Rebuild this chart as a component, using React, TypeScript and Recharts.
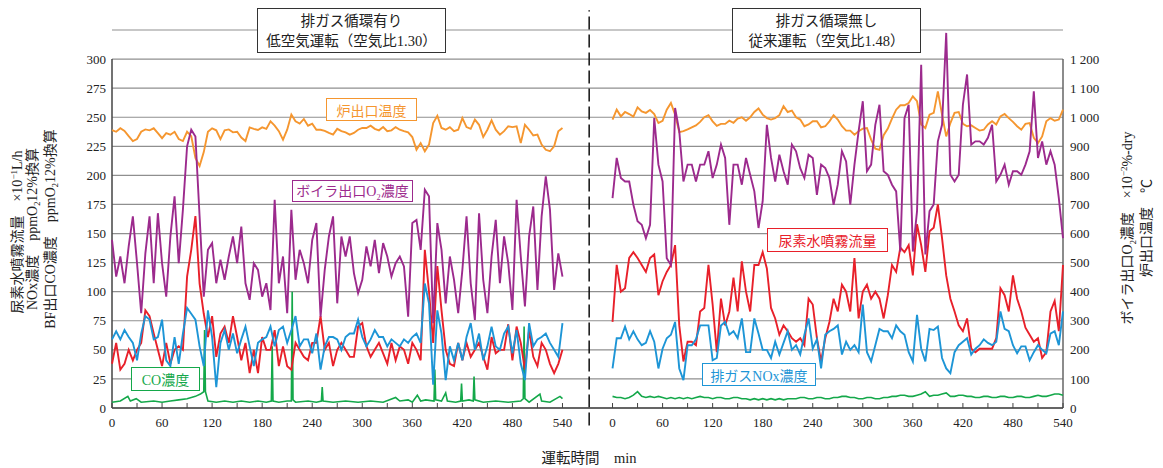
import React from "react";
import {
  LineChart,
  Line,
  XAxis,
  YAxis,
  CartesianGrid,
  ReferenceLine,
} from "recharts";

const FONT = '"Liberation Serif", "Noto Sans CJK JP", serif';
const TEXT = "#222";

const COLORS = {
  temp: "#F5962F",
  o2: "#9C2A8D",
  urea: "#E8202A",
  nox: "#1D95D6",
  co: "#14A84A",
};

// 5分ごとの読み取り時刻 (0–540 min)
const STEP_TIMES = Array.from({ length: 109 }, (_, i) => i * 5);
const RIGHT_OFFSET = 600;
const X_END = 1140;
const DIVIDER_T = 572;

const MINUTE_TICKS = [0, 30, 60, 90, 120, 150, 180, 210, 240, 270, 300, 330, 360, 390, 420, 450, 480, 510, 540];
const LEFT_TICKS = [0, 25, 50, 75, 100, 125, 150, 175, 200, 225, 250, 275, 300];
const RIGHT_TICKS = [0, 100, 200, 300, 400, 500, 600, 700, 800, 900, 1000, 1100, 1200];

// 排ガス循環有り
const LEFT_TEMP = [
  956, 950, 962, 953, 935, 918, 925, 950, 958, 955, 962, 945,
  928, 945, 940, 950, 925, 918, 950, 935, 860, 832, 880, 950,
  962, 955, 925, 955, 958, 948, 950, 930, 918, 965, 960, 956,
  965, 960, 986, 971, 952, 923, 957, 1009, 986, 978, 994, 971,
  978, 957, 957, 953, 946, 940, 960, 952, 948, 940, 946, 957,
  963, 963, 971, 960, 955, 966, 952, 955, 966, 957, 952, 948,
  932, 888, 911, 883, 906, 980, 1005, 963, 957, 966, 952, 957,
  997, 966, 960, 992, 974, 932, 957, 989, 957, 940, 952, 969,
  966, 969, 911, 974, 957, 937, 940, 906, 888, 883, 900, 952,
  963,
];
const LEFT_O2 = [
  578, 452, 521, 429, 556, 659, 498, 326, 532, 659, 429, 670,
  498, 383, 590, 728, 498, 682, 900, 957, 934, 659, 383, 544,
  567, 429, 510, 441, 521, 590, 498, 624, 429, 372, 498, 475,
  383, 429, 337, 716, 429, 521, 326, 682, 441, 544, 498, 429,
  578, 636, 314, 475, 590, 659, 360, 590, 521, 590, 464, 395,
  441, 556, 487, 578, 464, 567, 521, 452, 498, 521, 487, 314,
  636, 647, 544, 751, 728, 292, 636, 544, 360, 521, 441, 326,
  475, 659, 429, 303, 670, 441, 326, 521, 647, 429, 590, 498,
  337, 716, 521, 349, 590, 693, 406, 659, 797, 682, 406, 532,
  452,
];
const LEFT_UREA = [
  38, 56, 33, 38, 50, 41, 50, 56, 84, 79, 64, 50,
  36, 56, 38, 50, 53, 50, 113, 136, 165, 107, 81, 61,
  79, 44, 64, 70, 56, 79, 61, 41, 56, 30, 50, 30,
  61, 50, 50, 67, 36, 53, 36, 33, 56, 50, 44, 41,
  56, 56, 79, 50, 56, 36, 50, 56, 50, 44, 44, 70,
  73, 53, 44, 50, 56, 47, 38, 56, 41, 53, 50, 38,
  56, 50, 41, 136, 100, 56, 122, 84, 50, 38, 36, 56,
  41, 56, 44, 50, 56, 44, 33, 61, 47, 50, 50, 72,
  41, 70, 56, 33, 67, 44, 36, 56, 50, 38, 30, 38,
  50,
];
const LEFT_NOX = [
  59, 66, 59, 67, 61, 56, 41, 64, 79, 76, 59, 61,
  76, 41, 36, 61, 38, 64, 86, 81, 76, 53, 36, 84,
  61, 18, 56, 67, 50, 64, 47, 59, 70, 53, 36, 56,
  59, 61, 70, 53, 67, 70, 56, 67, 79, 53, 59, 59,
  47, 64, 33, 53, 61, 61, 59, 50, 61, 64, 64, 76,
  61, 53, 59, 67, 61, 61, 53, 59, 56, 53, 59, 56,
  61, 64, 56, 107, 90, 20, 84, 64, 24, 53, 41, 56,
  41, 61, 73, 50, 64, 41, 53, 70, 53, 50, 64, 70,
  47, 67, 38, 24, 73, 53, 59, 61, 64, 56, 50, 44,
  73,
];
const LEFT_CO_TIME = [
  0, 10, 19, 22, 29, 35, 50, 60, 70, 80, 90, 100, 106, 110, 111, 112, 115,
  125, 135, 145, 155, 165, 175, 185, 191, 192, 193, 200, 210, 215, 216, 217,
  220, 235, 245, 251, 252, 253, 265, 280, 295, 310, 325, 340, 345, 355, 360,
  366, 370, 376, 386, 387, 388, 395, 400, 402, 412, 418, 419, 420, 428, 433,
  434, 435, 445, 460, 475, 490, 493, 494, 495, 500, 513, 515, 525, 537, 540,
];
const LEFT_CO = [
  5, 6, 10, 6, 8, 5, 6, 5, 6, 7, 8, 10, 12, 14, 67, 14, 6,
  5, 6, 5, 6, 5, 6, 5, 6, 53, 6, 5, 6, 6, 100, 7,
  5, 6, 5, 6, 18, 6, 5, 6, 5, 6, 5, 9, 6, 7, 5,
  11, 6, 7, 6, 33, 7, 6, 13, 6, 5, 6, 21, 6, 7, 6,
  27, 7, 5, 6, 5, 6, 8, 70, 8, 5, 12, 6, 5, 10, 8,
];

// 排ガス循環無し
const RIGHT_TEMP = [
  992, 1026, 1003, 1018, 1011, 1002, 1034, 1020, 1015, 1025, 1011, 980,
  988, 1026, 1049, 1009, 949, 952, 958, 965, 972, 984, 1000, 1007,
  986, 970, 977, 977, 988, 981, 995, 1000, 988, 1000, 1018, 1030,
  1009, 997, 992, 997, 1007, 1038, 1018, 1023, 1000, 992, 969, 975,
  986, 986, 965, 969, 986, 1007, 992, 969, 954, 954, 940, 952,
  961, 963, 923, 892, 888, 938, 961, 995, 1026, 1041, 1041, 1049,
  1072, 1055, 975, 963, 1009, 1015, 1089, 1009, 934, 980, 1015, 1018,
  977, 969, 972, 963, 954, 957, 975, 986, 975, 1003, 1011, 997,
  984, 969, 957, 977, 980, 929, 911, 934, 986, 997, 988, 992,
  1026,
];
const RIGHT_O2 = [
  722, 860, 791, 779, 779, 699, 642, 630, 584, 630, 997, 837,
  779, 515, 492, 1032, 952, 779, 837, 837, 779, 837, 837, 883,
  791, 837, 906, 860, 630, 837, 837, 768, 860, 802, 745, 619,
  711, 974, 860, 779, 871, 814, 768, 906, 883, 825, 791, 871,
  860, 733, 837, 825, 791, 699, 768, 883, 848, 699, 837, 952,
  1055, 814, 837, 974, 1043, 814, 802, 768, 745, 538, 997, 1043,
  538, 676, 1180, 528, 677, 700, 917, 974, 1290, 802, 779, 802,
  1043, 1147, 906, 917, 917, 906, 929, 974, 779, 802, 837, 768,
  814, 814, 802, 837, 883, 1089, 860, 917, 837, 883, 837, 722,
  584,
];
const RIGHT_UREA = [
  74, 123, 100, 103, 129, 134, 129, 123, 117, 129, 132, 97,
  109, 117, 123, 140, 71, 40, 57, 57, 54, 83, 86, 123,
  89, 48, 94, 71, 83, 112, 83, 126, 100, 83, 123, 123,
  134, 120, 86, 77, 63, 71, 66, 60, 57, 60, 54, 94,
  89, 60, 40, 60, 74, 94, 83, 106, 100, 83, 129, 77,
  100, 106, 94, 100, 94, 77, 97, 123, 117, 138, 134, 140,
  114, 158, 140, 117, 152, 155, 175, 146, 114, 94, 83, 71,
  66, 77, 51, 48, 51, 51, 51, 51, 60, 103, 97, 83,
  114, 94, 83, 69, 63, 57, 60, 43, 48, 83, 92, 66,
  123,
];
const RIGHT_NOX = [
  34, 60, 60, 70, 59, 66, 59, 54, 56, 66, 57, 34,
  51, 60, 63, 74, 34, 24, 54, 54, 59, 71, 71, 71,
  41, 43, 71, 74, 63, 66, 60, 77, 48, 48, 77, 64,
  50, 50, 43, 57, 46, 56, 66, 50, 54, 46, 63, 77,
  51, 59, 34, 63, 66, 68, 71, 46, 57, 50, 54, 48,
  89, 48, 40, 54, 68, 66, 66, 60, 71, 66, 63, 48,
  40, 80, 51, 40, 68, 67, 70, 43, 34, 30, 48, 54,
  57, 60, 46, 51, 54, 59, 56, 54, 57, 83, 68, 66,
  54, 47, 53, 53, 41, 48, 54, 50, 47, 64, 66, 54,
  83,
];
const RIGHT_CO = [
  10, 9, 9, 8, 9, 11, 14, 10, 9, 10, 9, 10,
  9, 8, 9, 8, 9, 8, 9, 8, 9, 10, 9, 9,
  8, 9, 9, 8, 8, 9, 9, 8, 8, 7, 8, 7,
  8, 7, 8, 7, 8, 7, 8, 8, 8, 9, 9, 8,
  8, 9, 9, 8, 8, 9, 9, 10, 10, 9, 9, 8,
  8, 9, 9, 8, 8, 9, 9, 10, 10, 11, 11, 10,
  10, 11, 12, 14, 10, 11, 11, 12, 13, 10, 10, 11,
  11, 10, 10, 9, 9, 10, 10, 9, 9, 10, 10, 9,
  9, 10, 10, 9, 9, 10, 11, 10, 10, 11, 12, 12,
  11,
];

const leftRows = STEP_TIMES.map((t, i) => ({
  t,
  temp: LEFT_TEMP[i],
  o2: LEFT_O2[i],
  urea: LEFT_UREA[i],
  nox: LEFT_NOX[i],
}));
const leftCoRows = LEFT_CO_TIME.map((t, i) => ({ t, co: LEFT_CO[i] }));
const rightRows = STEP_TIMES.map((t, i) => ({
  t: RIGHT_OFFSET + t,
  temp: RIGHT_TEMP[i],
  o2: RIGHT_O2[i],
  urea: RIGHT_UREA[i],
  nox: RIGHT_NOX[i],
  co: RIGHT_CO[i],
}));

const X_TICKS = [...MINUTE_TICKS, ...MINUTE_TICKS.map((m) => m + RIGHT_OFFSET)];

function formatRight(v: number) {
  if (v < 1000) return String(v);
  return `${Math.floor(v / 1000)} ${String(v % 1000).padStart(3, "0")}`;
}

function TimeTick(props: any) {
  const { x, y, payload } = props;
  const v = payload.value;
  const m = v >= RIGHT_OFFSET ? v - RIGHT_OFFSET : v;
  return (
    <g>
      <line x1={x} x2={x} y1={y} y2={y - 5} stroke="#444" strokeWidth={1} />
      {m % 60 === 0 && (
        <text x={x} y={y + 19} textAnchor="middle" fontSize={13} fill={TEXT} fontFamily={FONT}>
          {m}
        </text>
      )}
    </g>
  );
}

function panelLines(rows: any[], coRows: any[], key: string) {
  return [
    <Line key={key + "co"} data={coRows} yAxisId="l" dataKey="co" stroke={COLORS.co} strokeWidth={1.6} dot={false} isAnimationActive={false} />,
    <Line key={key + "urea"} data={rows} yAxisId="l" dataKey="urea" stroke={COLORS.urea} strokeWidth={1.9} dot={false} isAnimationActive={false} />,
    <Line key={key + "nox"} data={rows} yAxisId="l" dataKey="nox" stroke={COLORS.nox} strokeWidth={1.9} dot={false} isAnimationActive={false} />,
    <Line key={key + "temp"} data={rows} yAxisId="r" dataKey="temp" stroke={COLORS.temp} strokeWidth={1.9} dot={false} isAnimationActive={false} />,
    <Line key={key + "o2"} data={rows} yAxisId="r" dataKey="o2" stroke={COLORS.o2} strokeWidth={1.9} dot={false} isAnimationActive={false} />,
  ];
}

const boxBase: React.CSSProperties = {
  position: "absolute",
  display: "flex",
  alignItems: "center",
  justifyContent: "center",
  background: "#fff",
  boxSizing: "border-box",
  whiteSpace: "nowrap",
  fontSize: 14,
};

function SeriesTag({ left, top, width, height, color, children }: any) {
  return (
    <div style={{ ...boxBase, left, top, width, height, border: `1.5px solid ${color}`, color }}>
      <span>{children}</span>
    </div>
  );
}

function TitleBox({ left, lines }: { left: number; lines: string[] }) {
  return (
    <div
      style={{
        ...boxBase,
        left,
        top: 8,
        width: 189,
        height: 45,
        border: "1px solid #333",
        flexDirection: "column",
        fontSize: 14.5,
        lineHeight: "20px",
        color: TEXT,
      }}
    >
      {lines.map((l) => (
        <div key={l}>{l}</div>
      ))}
    </div>
  );
}

function VText({ cx, cy, children }: any) {
  return (
    <div
      style={{
        position: "absolute",
        left: cx,
        top: cy,
        transform: "translate(-50%, -50%) rotate(-90deg)",
        whiteSpace: "nowrap",
        fontSize: 14,
        color: TEXT,
        lineHeight: "15px",
      }}
    >
      {children}
    </div>
  );
}

const sub: React.CSSProperties = { fontSize: "0.6em", verticalAlign: "sub" };
const sup: React.CSSProperties = { fontSize: "0.65em", verticalAlign: "super" };

export default function App() {
  return (
    <div style={{ position: "absolute", left: 0, top: 0, width: 1163, height: 468, fontFamily: FONT, background: "#fff" }}>
      <LineChart width={1163} height={468} margin={{ top: 30, right: 0, bottom: 0, left: 0 }}>
        <CartesianGrid yAxisId="l" vertical={false} stroke="#8f8f8f" strokeWidth={1.2} />
        <XAxis
          dataKey="t"
          type="number"
          domain={[0, X_END]}
          ticks={X_TICKS}
          interval={0}
          tick={<TimeTick />}
          tickLine={false}
          tickSize={0}
          tickMargin={0}
          height={60}
          axisLine={{ stroke: "#444", strokeWidth: 1.5 }}
          allowDuplicatedCategory={false}
        />
        <YAxis
          yAxisId="l"
          orientation="left"
          type="number"
          width={112}
          domain={[0, 325]}
          ticks={LEFT_TICKS}
          interval={0}
          axisLine={false}
          tickLine={false}
          tickSize={4}
          tickMargin={2}
          tick={{ fontSize: 13, fill: TEXT, fontFamily: FONT }}
        />
        <YAxis
          yAxisId="r"
          orientation="right"
          type="number"
          width={100}
          domain={[0, 1300]}
          ticks={RIGHT_TICKS}
          interval={0}
          axisLine={false}
          tickLine={false}
          tickSize={5}
          tickMargin={2}
          tickFormatter={formatRight}
          tick={{ fontSize: 13, fill: TEXT, fontFamily: FONT }}
        />
        <ReferenceLine yAxisId="l" segment={[{ x: 0, y: 0 }, { x: 0, y: 300 }]} stroke="#444" strokeWidth={1.5} ifOverflow="visible" />
        <ReferenceLine yAxisId="l" segment={[{ x: X_END, y: 0 }, { x: X_END, y: 300 }]} stroke="#666" strokeWidth={1.5} ifOverflow="visible" />
        <ReferenceLine
          yAxisId="l"
          segment={[{ x: DIVIDER_T, y: -15 }, { x: DIVIDER_T, y: 342 }]}
          stroke="#111"
          strokeWidth={1.5}
          strokeDasharray="13 5"
          ifOverflow="visible"
        />
        {panelLines(leftRows, leftCoRows, "L")}
        {panelLines(rightRows, rightRows, "R")}
      </LineChart>

      <TitleBox left={257} lines={["排ガス循環有り", "低空気運転（空気比1.30）"]} />
      <TitleBox left={732} lines={["排ガス循環無し", "従来運転（空気比1.48）"]} />

      <SeriesTag left={326} top={98} width={91} height={23} color={COLORS.temp}>炉出口温度</SeriesTag>
      <SeriesTag left={292} top={180} width={121} height={22} color={COLORS.o2}>
        ボイラ出口O<span style={sub}>2</span>濃度
      </SeriesTag>
      <SeriesTag left={131} top={367} width={69} height={24} color={COLORS.co}>CO濃度</SeriesTag>
      <SeriesTag left={767} top={228} width={121} height={24} color={COLORS.urea}>尿素水噴霧流量</SeriesTag>
      <SeriesTag left={702} top={363} width={114} height={23} color={COLORS.nox}>排ガスNOx濃度</SeriesTag>

      <VText cx={16} cy={232}>
        尿素水噴霧流量　×10<span style={sup}>−1</span>L/h
      </VText>
      <VText cx={35} cy={229}>NOx濃度　ppmO<span style={sub}>2</span>12%換算</VText>
      <VText cx={53} cy={229}>BF出口CO濃度　ppmO<span style={sub}>2</span>12%換算</VText>
      <VText cx={1129} cy={228}>
        ボイラ出口O<span style={sub}>2</span>濃度　×10<span style={sup}>−2</span>%-dry
      </VText>
      <VText cx={1146} cy={228}>炉出口温度　℃</VText>

      <div style={{ position: "absolute", left: 589, top: 456, transform: "translate(-50%, -50%)", fontSize: 14.5, color: TEXT, whiteSpace: "nowrap" }}>
        運転時間　min
      </div>
    </div>
  );
}
